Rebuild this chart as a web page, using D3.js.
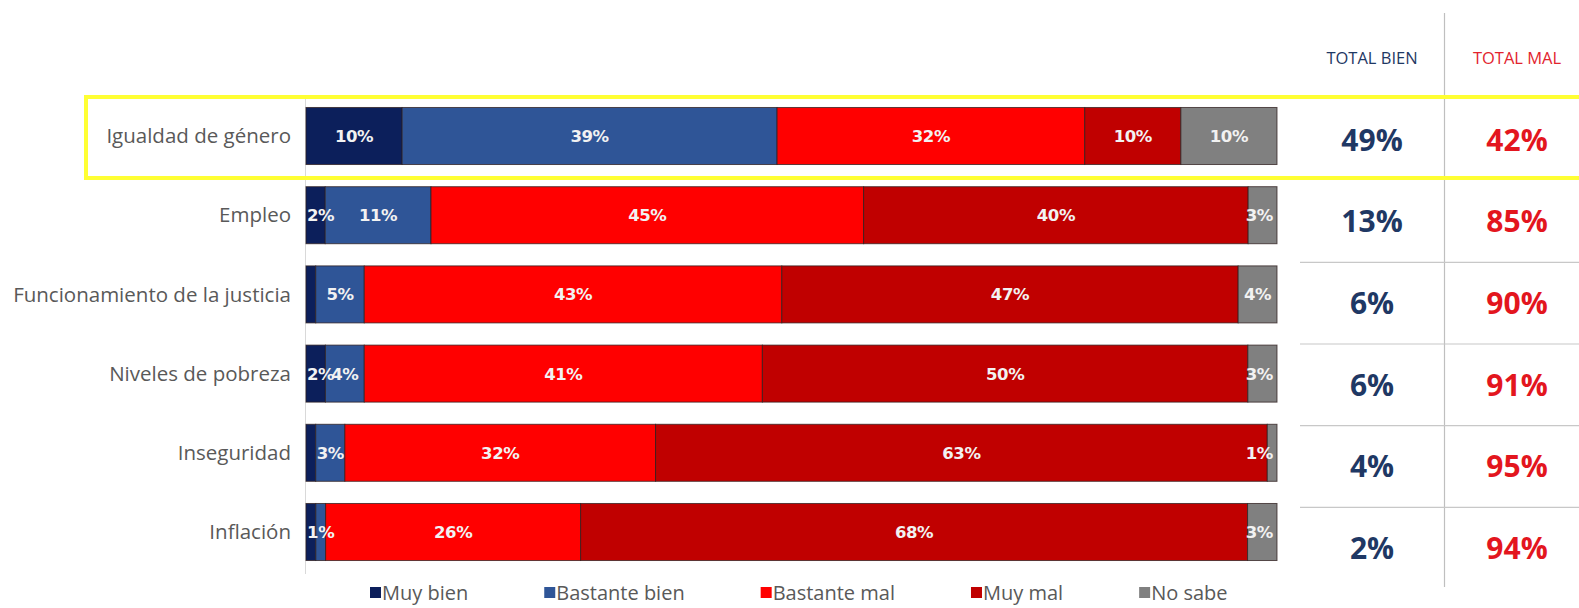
<!DOCTYPE html>
<html>
<head>
<meta charset="utf-8">
<script src="https://cdn.jsdelivr.net/npm/d3@7"></script>
<style>
  body { margin: 0; background: #fff; }
  svg { display: block; }
  text { font-family: "Open Sans", sans-serif; }
</style>
</head>
<body>
<svg id="chart"></svg>
<script>
var width = 1579;
var height = 608;

// data
var categories = ["Igualdad de género", "Empleo", "Funcionamiento de la justicia",
                  "Niveles de pobreza", "Inseguridad", "Inflación"];
var seriesNames = ["Muy bien", "Bastante bien", "Bastante mal", "Muy mal", "No sabe"];
var muyBien      = [10, 2, 1, 2, 1, 1];
var bastanteBien = [39, 11, 5, 4, 3, 1];
var bastanteMal  = [32, 45, 43, 41, 32, 26];
var muyMal       = [10, 40, 47, 50, 63, 68];
var noSabe       = [10, 3, 4, 3, 1, 3];
var totalBien    = [49, 13, 6, 6, 4, 2];
var totalMal     = [42, 85, 90, 91, 95, 94];
var seriesColors = ["#0c1f5b", "#2f5597", "#ff0000", "#c00000", "#808080"];

var seriesValues = [muyBien, bastanteBien, bastanteMal, muyMal, noSabe];

var barLeft = 306;
var barRight = 1277;

var svg = d3.select("#chart")
    .attr("width", width)
    .attr("height", height);

var yScale = d3.scaleBand()
    .domain(categories)
    .range([96.4, 571.6])
    .paddingInner(0.28)
    .paddingOuter(0.14);

// table on the right uses its own slightly taller rows
var tableY = d3.scaleBand()
    .domain(categories)
    .range([99, 589]);

// rows: stacked segments, each bar scaled to its own sum
var rows = categories.map(function(c, i) {
    var total = d3.sum(seriesValues, function(s) { return s[i]; });
    var x = d3.scaleLinear().domain([0, total]).range([barLeft, barRight]);
    var acc = 0;
    var segs = seriesValues.map(function(s, k) {
        var seg = { cat: c, k: k, value: s[i], x0: x(acc), x1: x(acc + s[i]) };
        acc += s[i];
        return seg;
    });
    return { cat: c, segs: segs };
});

// left axis line
svg.append("line")
    .attr("x1", barLeft - 0.5).attr("x2", barLeft - 0.5)
    .attr("y1", 97).attr("y2", 574)
    .attr("stroke", "#d9d9d9")
    .attr("stroke-width", 1);

var rowG = svg.selectAll("g.row")
    .data(rows)
    .enter()
    .append("g")
        .attr("class", "row")
        .attr("transform", d => "translate(0," + yScale(d.cat) + ")");

rowG.selectAll("rect")
    .data(d => d.segs)
    .enter()
    .append("rect")
        .attr("x", d => d.x0)
        .attr("y", 0)
        .attr("width", d => d.x1 - d.x0)
        .attr("height", yScale.bandwidth())
        .attr("fill", d => seriesColors[d.k])
        .attr("stroke", "rgba(45,30,30,0.75)")
        .attr("stroke-width", 1);

rowG.selectAll("text.lab")
    .data(d => d.segs.filter(s => !(s.k === 0 && s.value < 2)))
    .enter()
    .append("text")
        .attr("class", "lab")
        .attr("y", yScale.bandwidth() / 2)
        .attr("dy", "0.36em")
        .attr("text-anchor", "middle")
        .style("font-family", "'DejaVu Sans', sans-serif")
        .style("font-size", "16.5px")
        .style("font-weight", "bold")
        .style("letter-spacing", "-0.4px")
        .attr("fill", "#f2f2f2")
        .text(d => d.value + "%")
        .attr("x", function(d) {
            var w = this.getComputedTextLength();
            var cx = (d.x0 + d.x1) / 2;
            cx = Math.min(cx, barRight - 4 - w / 2);
            cx = Math.max(cx, barLeft + 1 + w / 2);
            return cx;
        });

// category labels
svg.selectAll("text.cat")
    .data(categories)
    .enter()
    .append("text")
        .attr("class", "cat")
        .attr("x", 291)
        .attr("y", d => yScale(d) + yScale.bandwidth() / 2)
        .attr("dy", "0.35em")
        .attr("text-anchor", "end")
        .style("font-size", "20.5px")
        .attr("fill", "#595959")
        .text(d => d);

// right-hand table
var colBien = 1372;
var colMal = 1517;

svg.append("line")
    .attr("x1", 1444.5).attr("x2", 1444.5)
    .attr("y1", 13).attr("y2", 587)
    .attr("stroke", "#bfbfbf")
    .attr("stroke-width", 1.2);

svg.selectAll("line.sep")
    .data(categories.slice(2))
    .enter()
    .append("line")
        .attr("class", "sep")
        .attr("x1", 1300).attr("x2", width)
        .attr("y1", d => tableY(d)).attr("y2", d => tableY(d))
        .attr("stroke", "#c8c8c8")
        .attr("stroke-width", 1.2);

svg.append("text")
    .attr("x", colBien).attr("y", 58).attr("dy", "0.35em")
    .attr("text-anchor", "middle")
    .style("font-size", "16.5px")
    .attr("fill", "#1f3864")
    .text("TOTAL BIEN");

svg.append("text")
    .attr("x", colMal).attr("y", 58).attr("dy", "0.35em")
    .attr("text-anchor", "middle")
    .style("font-size", "16.5px")
    .attr("fill", "#e2242e")
    .text("TOTAL MAL");

svg.selectAll("text.tb")
    .data(totalBien)
    .enter()
    .append("text")
        .attr("class", "tb")
        .attr("x", colBien)
        .attr("y", (d, i) => tableY(categories[i]) + tableY.bandwidth() / 2)
        .attr("dy", "0.36em")
        .attr("text-anchor", "middle")
        .style("font-size", "30px")
        .style("font-weight", "bold")
        .attr("fill", "#1f3864")
        .text(d => d + "%");

svg.selectAll("text.tm")
    .data(totalMal)
    .enter()
    .append("text")
        .attr("class", "tm")
        .attr("x", colMal)
        .attr("y", (d, i) => tableY(categories[i]) + tableY.bandwidth() / 2)
        .attr("dy", "0.36em")
        .attr("text-anchor", "middle")
        .style("font-size", "30px")
        .style("font-weight", "bold")
        .attr("fill", "#e3161e")
        .text(d => d + "%");

// yellow highlight round the first row
svg.append("rect")
    .attr("x", 86)
    .attr("y", 97)
    .attr("width", width)
    .attr("height", 81)
    .attr("fill", "none")
    .attr("stroke", "#ffff33")
    .attr("stroke-width", 4);

// legend
var legend = svg.append("g").attr("transform", "translate(0,593)");
var lx = 370;
seriesNames.forEach(function(name, k) {
    legend.append("rect")
        .attr("x", lx).attr("y", -6)
        .attr("width", 11).attr("height", 11)
        .attr("fill", seriesColors[k]);
    var t = legend.append("text")
        .attr("x", lx + 12)
        .attr("dy", "0.35em")
        .style("font-size", "20px")
        .attr("fill", "#595959")
        .text(name);
    lx += 12 + t.node().getComputedTextLength() + 76;
});
</script>
</body>
</html>
